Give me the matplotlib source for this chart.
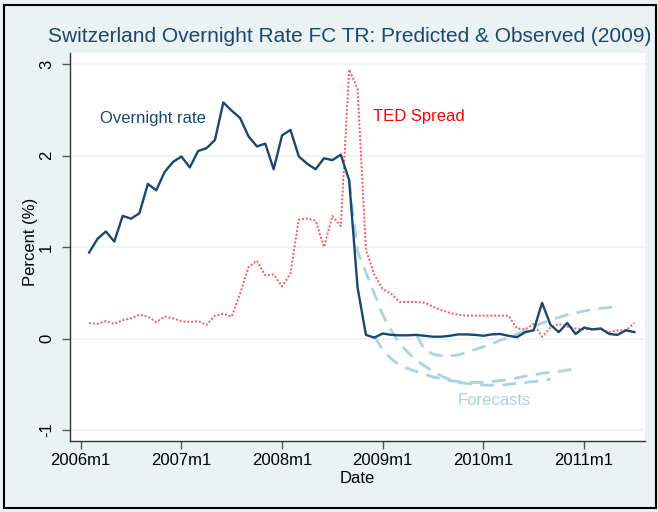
import matplotlib
matplotlib.use('Agg')
import matplotlib.pyplot as plt
from matplotlib.patches import Rectangle
import numpy as np

plt.rcParams['font.family'] = ['Liberation Sans', 'DejaVu Sans']

# Months counted from 2006m1 = 0
months = list(range(1, 67))
overnight = [0.94, 1.09, 1.17, 1.06, 1.34, 1.31, 1.37, 1.69, 1.62, 1.82,
             1.93, 1.99, 1.87, 2.05, 2.08, 2.17, 2.58, 2.49, 2.41, 2.21,
             2.10, 2.13, 1.85, 2.22, 2.28, 1.99, 1.91, 1.85, 1.97, 1.95,
             2.01, 1.73, 0.56, 0.04, 0.01, 0.055, 0.04, 0.035, 0.035, 0.04,
             0.03, 0.02, 0.02, 0.03, 0.045, 0.045, 0.04, 0.03, 0.045, 0.05,
             0.03, 0.015, 0.07, 0.09, 0.39, 0.15, 0.07, 0.17, 0.05, 0.12,
             0.10, 0.11, 0.05, 0.04, 0.09, 0.07]
ted = [0.17, 0.16, 0.19, 0.16, 0.20, 0.22, 0.26, 0.24, 0.18, 0.24,
       0.22, 0.19, 0.18, 0.19, 0.15, 0.25, 0.27, 0.24, 0.49, 0.78,
       0.85, 0.69, 0.70, 0.57, 0.71, 1.30, 1.31, 1.29, 1.00, 1.34,
       1.23, 2.94, 2.73, 0.97, 0.70, 0.54, 0.49, 0.40, 0.40, 0.40,
       0.39, 0.35, 0.31, 0.28, 0.26, 0.25, 0.25, 0.25, 0.25, 0.25,
       0.25, 0.11, 0.10, 0.16, 0.02, 0.12, 0.16, 0.13, 0.11, 0.10,
       0.10, 0.10, 0.07, 0.09, 0.09, 0.17]

# Forecasts from three origins (2008m9, 2008m12, 2009m5), 24 months ahead
fc1_months = list(range(32, 57))
fc1 = [1.73, 0.95, 0.72, 0.49, 0.26, 0.09, -0.05, -0.15, -0.24, -0.30,
       -0.36, -0.41, -0.45, -0.48, -0.49, -0.50, -0.51, -0.51, -0.51, -0.50,
       -0.49, -0.48, -0.47, -0.46, -0.445]
fc2_months = list(range(35, 60))
fc2 = [0.02, -0.12, -0.22, -0.29, -0.33, -0.36, -0.39, -0.42, -0.44, -0.46,
       -0.47, -0.48, -0.48, -0.48, -0.47, -0.46, -0.45, -0.43, -0.41, -0.40,
       -0.38, -0.37, -0.36, -0.345, -0.33]
fc3_months = list(range(40, 65))
fc3 = [0.04, -0.12, -0.17, -0.19, -0.19, -0.18, -0.15, -0.12, -0.09, -0.06,
       -0.02, 0.01, 0.05, 0.09, 0.13, 0.17, 0.20, 0.23, 0.26, 0.28,
       0.30, 0.32, 0.33, 0.34, 0.35]

xtick_pos = [0, 12, 24, 36, 48, 60]
xtick_labels = ['2006m1', '2007m1', '2008m1', '2009m1', '2010m1', '2011m1']
ytick_pos = [-1, 0, 1, 2, 3]

navy = '#1A476F'
bg = '#EAF2F3'
fc_col = '#A9D4E4'

fig = plt.figure(figsize=(6.58, 5.12), dpi=100, facecolor=bg)
ax = fig.add_axes([70 / 658, 1 - 441 / 512, 575 / 658, 388.3 / 512])
ax.set_facecolor('white')

for yv in ytick_pos:
    ax.axhline(yv, color=bg, lw=1.2, zorder=0)

ax.plot(months, ted, color='#FF5555', lw=1.4, ls=(0, (1, 1)), zorder=2)
for fm, fv in [(fc1_months, fc1), (fc2_months, fc2), (fc3_months, fc3)]:
    ax.plot(fm, fv, color=fc_col, lw=2, ls=(0, (5, 3)), zorder=3)
ax.plot(months, overnight, color=navy, lw=1.7, zorder=4)

ax.text(2.3, 2.41, 'Overnight rate', color=navy, fontsize=12,
        ha='left', va='center')
ax.text(34.8, 2.43, 'TED Spread', color='red', fontsize=12, ha='left', va='center')
ax.text(49.3, -0.68, 'Forecasts', color=fc_col, fontsize=12, ha='center', va='center')

ax.set_xlim(-1.28, 67.27)
ax.set_ylim(-1.12, 3.124)
ax.set_xticks(xtick_pos)
ax.set_xticklabels(xtick_labels, fontsize=12)
ax.set_yticks(ytick_pos)
ax.set_yticklabels([str(v) for v in ytick_pos], fontsize=12, rotation=90, va='center')
ax.tick_params(length=5.5, width=1, color='#555555', pad=3)
ax.tick_params(axis='y', pad=6)
for s in ['top', 'right']:
    ax.spines[s].set_visible(False)
for s in ['left', 'bottom']:
    ax.spines[s].set_color('#333333')
    ax.spines[s].set_linewidth(1)
ax.set_xlabel('Date', fontsize=12, labelpad=2)
ax.set_ylabel('Percent (%)', fontsize=12)
ax.yaxis.set_label_coords(-0.056, 0.512)

fig.text(350 / 658, 1 - 37 / 512, 'Switzerland Overnight Rate FC TR: Predicted & Observed (2009)',
         color=navy, fontsize=15, ha='center', va='center')

fig.patches.append(Rectangle((4 / 658, 4 / 512), 652 / 658, 503 / 512,
                             transform=fig.transFigure, fill=False,
                             edgecolor='black', lw=1.5))

plt.savefig('out.png', dpi=100, facecolor=bg)
